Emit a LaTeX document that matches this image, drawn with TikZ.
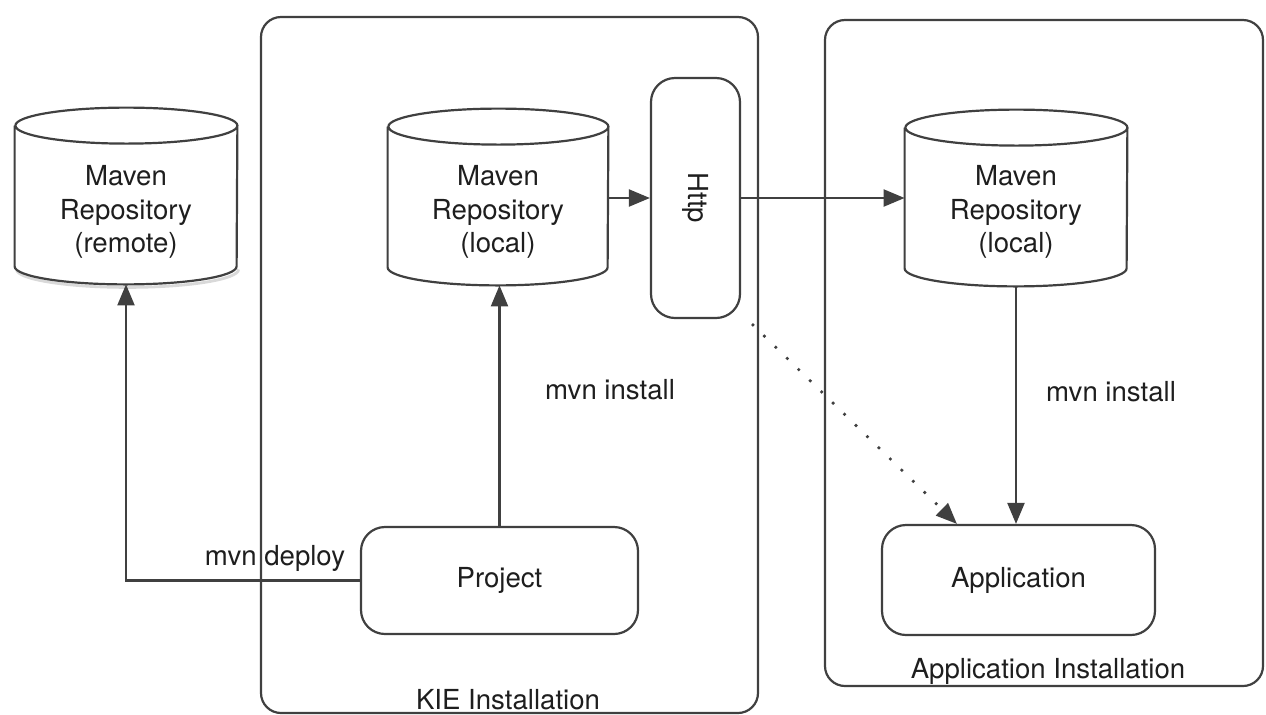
\documentclass[tikz,border=0pt]{standalone}
\usepackage{fontspec}
\setmainfont{TeX Gyre Heros}
\usetikzlibrary{arrows.meta,calc}
\definecolor{linec}{RGB}{64,64,64}
\definecolor{txtc}{RGB}{30,30,30}
\newcommand\mycyl[2]{%
  \path[draw=linec,line width=1.1pt,fill=white]
    ([yshift=-9pt]#1.north west) -- ([yshift=9pt]#1.south west)
    arc[start angle=180,end angle=360,x radius=#2,y radius=9pt]
    -- ([yshift=-9pt]#1.north east)
    arc[start angle=0,end angle=360,x radius=#2,y radius=9pt];
}
\begin{document}
\begin{tikzpicture}[x=0.5pt,y=-0.5pt,
  every node/.style={font=\fontsize{13.8}{16.75}\selectfont, text=txtc},
  frame/.style={draw=linec, line width=1.1pt, rounded corners=10pt},
  box/.style={draw=linec, line width=1.1pt, rounded corners=12pt, fill=white, inner sep=0pt},
  cylbody/.style={inner sep=0pt, minimum height=88pt},
  arr/.style={draw=linec, line width=1.1pt, -{Triangle[length=10.5pt,width=8.5pt]}},
  dotarr/.style={draw=linec, line width=1.3pt, dash pattern=on 1.3pt off 6.7pt, -{Triangle[length=10.5pt,width=8.5pt]}},
  lbl/.style={inner sep=0pt, align=center}
]
\useasboundingbox (0,0) rectangle (1266,714);

% containers
\node[frame, minimum width=248.5pt, minimum height=348pt, inner sep=0pt] (kie) at (509.5,365) {};
\node[frame, minimum width=219pt, minimum height=333pt, inner sep=0pt] (appinst) at (1044,353) {};
\node[lbl] (kiet) at (508,700) {KIE Installation};
\node[lbl] (appinstt) at (1048,671) {Application Installation};

% cylinders
\node[cylbody, minimum width=111pt] (remote) at (126,196) {};
\draw[black!15, line width=1.4pt] ([xshift=1pt,yshift=-1.5pt]remote.south west) ++(0,9pt)
  arc[start angle=180,end angle=360,x radius=55.5pt,y radius=9pt];
\mycyl{remote}{55.5pt}
\node[lbl] (remotet) at ($(remote.center)+(0,16)$) {Maven\\Repository\\(remote)};

\node[cylbody, minimum width=110pt] (local) at (498,197) {};
\mycyl{local}{55pt}
\node[lbl] (localt) at ($(local.center)+(0,15)$) {Maven\\Repository\\(local)};

\node[cylbody, minimum width=111pt] (local2) at (1016,198) {};
\mycyl{local2}{55.5pt}
\node[lbl] (local2t) at ($(local2.center)+(0,14)$) {Maven\\Repository\\(local)};

% boxes
\node[box, minimum width=44.5pt, minimum height=120pt] (http) at (695.5,198) {};
\node[lbl, rotate=-90] (httpt) at (http.center) {Http};
\node[box, minimum width=138.5pt, minimum height=53.5pt] (project) at (499.5,580.5) {Project};
\node[box, minimum width=136.5pt, minimum height=55pt] (app) at (1018.5,580) {Application};

% connectors
\draw[arr] (local.east |- http.west) -- (http.west);
\draw[arr] (http.east) -- (http.east -| local2.west);
\draw[arr] (project.north) -- (project.north |- local.south);
\draw[arr] (local2.south) -- (local2.south |- app.north);
\draw[arr] (project.west) -| (remote.south);
\coordinate (dotstart) at (752,324);
\draw[dotarr] (dotstart) -- ([xshift=38pt]app.north west);

% labels
\node[lbl] (inst1) at (610,390) {mvn install};
\node[lbl] (inst2) at (1111,392) {mvn install};
\node[lbl] (deploy) at (275,558) {mvn deploy};
\end{tikzpicture}
\end{document}
